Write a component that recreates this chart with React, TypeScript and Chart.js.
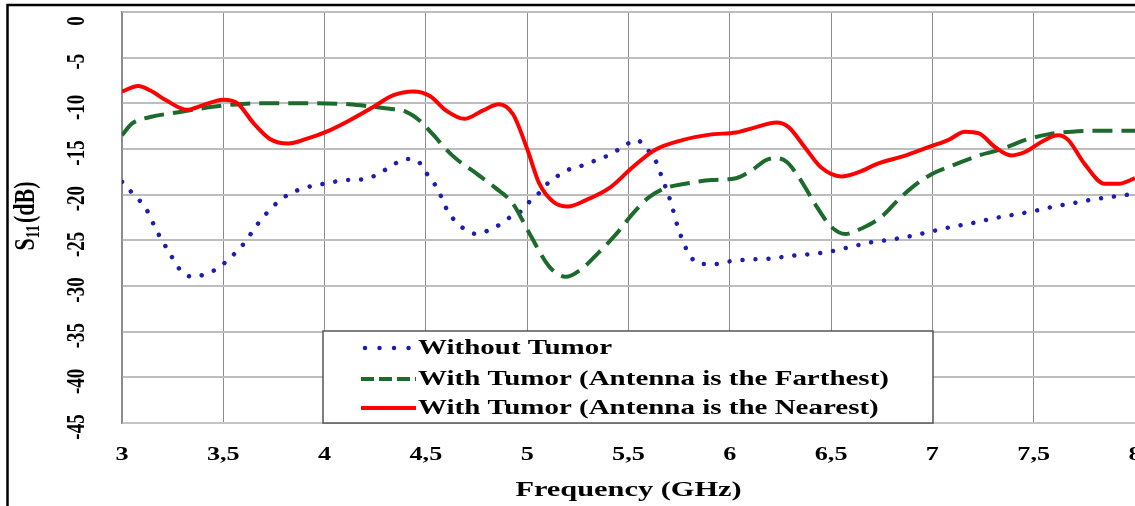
import React, { useEffect, useRef } from 'react';
import { Chart, registerables } from 'chart.js';

Chart.register(...registerables);

const FONT = "'Liberation Serif', 'Times New Roman', serif";
const STRETCH = 1.38;

const xTickLabels = ['3', '3,5', '4', '4,5', '5', '5,5', '6', '6,5', '7', '7,5', '8'];
const yTickLabels = ['0', '-5', '-10', '-15', '-20', '-25', '-30', '-35', '-40', '-45'];

const seriesLabels = [
  'Without Tumor',
  'With Tumor (Antenna is the Farthest)',
  'With Tumor (Antenna is the Nearest)',
];

const freqWithout = [
  3.0, 3.05, 3.12, 3.17, 3.23, 3.29, 3.35, 3.41, 3.47, 3.52, 3.6, 3.67, 3.75, 3.82, 3.91,
  4.0, 4.11, 4.2, 4.29, 4.34, 4.4, 4.46, 4.49, 4.53, 4.56, 4.61, 4.65, 4.7, 4.75, 4.81,
  4.87, 4.92, 4.97, 5.01, 5.06, 5.09, 5.14, 5.2, 5.26, 5.32, 5.38, 5.44, 5.49, 5.54, 5.59,
  5.63, 5.67, 5.71, 5.74, 5.78, 5.81, 5.86, 5.93, 6.0, 6.1, 6.2, 6.3, 6.4, 6.5, 6.6, 6.7,
  6.8, 6.9, 7.0, 7.1, 7.2, 7.3, 7.4, 7.5, 7.6, 7.7, 7.8, 7.9, 8.0,
];
const s11Without = [
  -18.6, -19.8, -21.6, -23.9, -26.2, -28.3, -29.0, -28.7, -28.1, -27.2, -25.4, -23.2, -21.2, -20.0, -19.2,
  -18.8, -18.4, -18.3, -17.4, -16.7, -16.1, -16.3, -17.3, -18.4, -19.5, -21.9, -23.0, -23.9, -24.3, -23.9,
  -23.2, -22.4, -21.8, -20.8, -19.8, -19.0, -18.1, -17.3, -16.9, -16.4, -15.9, -15.2, -14.5, -14.0, -15.0,
  -16.1, -18.4, -20.9, -23.3, -25.7, -26.9, -27.6, -27.6, -27.3, -27.1, -27.0, -26.7, -26.5, -26.2, -25.7, -25.2,
  -24.9, -24.5, -24.0, -23.5, -23.1, -22.6, -22.2, -21.8, -21.3, -20.9, -20.5, -20.2, -19.9,
];

const freqFarthest = [
  3.0, 3.05, 3.14, 3.27, 3.38, 3.52, 3.65, 3.8, 3.96, 4.12, 4.25, 4.32, 4.4, 4.47, 4.53,
  4.63, 4.75, 4.84, 4.93, 5.01, 5.11, 5.19, 5.27, 5.35, 5.44, 5.52, 5.6, 5.68, 5.78, 5.91,
  6.03, 6.11, 6.18, 6.23, 6.28, 6.35, 6.42, 6.5, 6.57, 6.65, 6.75, 6.83, 6.9, 7.0, 7.1,
  7.23, 7.33, 7.46, 7.57, 7.69, 7.82, 8.0,
];
const s11Farthest = [
  -13.5, -12.2, -11.5, -11.0, -10.6, -10.2, -10.0, -10.0, -10.0, -10.1, -10.4, -10.6, -10.9, -11.9, -13.3,
  -15.7, -17.7, -19.2, -21.0, -24.2, -27.9, -29.0, -28.1, -26.4, -24.3, -22.1, -20.3, -19.3, -18.8, -18.4,
  -18.2, -17.3, -16.2, -16.0, -16.4, -18.4, -21.0, -23.5, -24.3, -23.7, -22.4, -20.6, -19.2, -17.7, -16.8,
  -15.7, -15.1, -14.0, -13.4, -13.1, -13.0, -13.0,
];

const freqNearest = [
  3.0, 3.08, 3.14, 3.22, 3.32, 3.4, 3.5, 3.57, 3.65, 3.73, 3.82, 3.91, 4.01, 4.12, 4.24,
  4.34, 4.44, 4.52, 4.6, 4.69, 4.78, 4.86, 4.93, 5.0, 5.06, 5.13, 5.2, 5.29, 5.41, 5.52,
  5.63, 5.77, 5.91, 6.03, 6.13, 6.23, 6.29, 6.37, 6.45, 6.55, 6.64, 6.73, 6.87, 6.98, 7.08,
  7.16, 7.23, 7.31, 7.39, 7.46, 7.54, 7.62, 7.67, 7.75, 7.85, 7.92, 8.0,
];
const s11Nearest = [
  -8.7, -8.1, -8.6, -9.7, -10.7, -10.2, -9.6, -10.0, -12.2, -13.9, -14.4, -13.9, -13.1, -11.9, -10.4,
  -9.1, -8.7, -9.2, -10.8, -11.7, -10.8, -10.1, -11.2, -15.0, -18.8, -20.8, -21.3, -20.6, -19.2, -17.0,
  -15.1, -14.0, -13.4, -13.2, -12.6, -12.1, -12.6, -14.8, -17.0, -18.0, -17.5, -16.6, -15.7, -14.8, -14.0,
  -13.1, -13.3, -14.8, -15.7, -15.3, -14.2, -13.5, -14.0, -16.6, -18.8, -18.8, -18.2,
];

const toPoints = (xs: number[], ys: number[]) => xs.map((x, i) => ({ x, y: ys[i] }));

function stretchedText(
  ctx: CanvasRenderingContext2D,
  text: string,
  x: number,
  y: number,
  font: string,
  align: CanvasTextAlign,
  rotated = false,
) {
  ctx.save();
  ctx.translate(x, y);
  if (rotated) {
    ctx.rotate(-Math.PI / 2);
    ctx.scale(1, STRETCH);
  } else {
    ctx.scale(STRETCH, 1);
  }
  ctx.font = font;
  ctx.fillStyle = '#000';
  ctx.textAlign = align;
  ctx.textBaseline = 'middle';
  ctx.fillText(text, 0, 0);
  ctx.restore();
}

const decorPlugin = {
  id: 'decor',
  afterDraw(chart: any) {
    const ctx = chart.ctx as CanvasRenderingContext2D;
    const xScale = chart.scales.x;
    const yScale = chart.scales.y;
    const area = chart.chartArea;

    ctx.save();
    // outer frame
    ctx.strokeStyle = '#000';
    ctx.lineWidth = 2.5;
    ctx.beginPath();
    ctx.moveTo(7.5, 506);
    ctx.lineTo(7.5, 5);
    ctx.lineTo(1135, 5);
    ctx.stroke();
    ctx.restore();

    // x tick labels (from the x scale)
    xTickLabels.forEach((lab, i) => {
      const px = xScale.getPixelForValue(3 + i * 0.5);
      stretchedText(ctx, lab, px, area.bottom + 32, `bold 19px ${FONT}`, 'center');
    });

    // y tick labels (from the y scale), rotated
    yTickLabels.forEach((lab, i) => {
      const py = yScale.getPixelForValue(-i * 5);
      stretchedText(ctx, lab, 77, py + (i === 0 ? 9 : 4), `bold 19px ${FONT}`, 'center', true);
    });

    // x title
    stretchedText(ctx, 'Frequency (GHz)', (area.left + area.right) / 2, 490, `bold 22px ${FONT}`, 'center');

    // y title with subscript
    ctx.save();
    ctx.translate(24, 216);
    ctx.rotate(-Math.PI / 2);
    ctx.scale(1, STRETCH);
    ctx.fillStyle = '#000';
    ctx.textBaseline = 'alphabetic';
    const big = `bold 22px ${FONT}`;
    const small = `bold 14px ${FONT}`;
    ctx.font = big;
    const wS = ctx.measureText('S').width;
    const wRest = ctx.measureText('(dB)').width;
    ctx.font = small;
    const wSub = ctx.measureText('11').width;
    const total = wS + wSub + 2 + wRest;
    let x = -total / 2;
    ctx.font = big;
    ctx.fillText('S', x, 7);
    x += wS;
    ctx.font = small;
    ctx.fillText('11', x, 11);
    x += wSub + 2;
    ctx.font = big;
    ctx.fillText('(dB)', x, 7);
    ctx.restore();

    // legend
    ctx.save();
    const bx = 323, by = 331, bw = 610, bh = 92;
    ctx.fillStyle = '#fff';
    ctx.fillRect(bx, by, bw, bh);
    ctx.strokeStyle = '#555';
    ctx.lineWidth = 1.5;
    ctx.strokeRect(bx, by, bw, bh);
    const rows = [348, 379, 408];
    chart.data.datasets.forEach((ds: any, i: number) => {
      const y = rows[i];
      ctx.save();
      ctx.strokeStyle = ds.borderColor;
      ctx.lineWidth = ds.borderWidth;
      ctx.lineCap = ds.borderCapStyle || 'butt';
      if (i === 0) ctx.setLineDash([0.01, 14.5]);
      else if (i === 1) ctx.setLineDash([13, 5]);
      else ctx.setLineDash([]);
      ctx.beginPath();
      ctx.moveTo(i === 0 ? 365 : 361, y);
      ctx.lineTo(i === 0 ? 410 : 416, y);
      ctx.stroke();
      ctx.restore();
      stretchedText(ctx, ds.label, 418, y + 1, `bold 21px ${FONT}`, 'left');
    });
    ctx.restore();
  },
};

export default function App() {
  const ref = useRef<HTMLCanvasElement | null>(null);
  useEffect(() => {
    if (!ref.current) return;
    const chart = new Chart(ref.current, {
      type: 'line',
      data: {
        datasets: [
          {
            label: seriesLabels[0],
            data: toPoints(freqWithout, s11Without),
            borderColor: '#1d1db0',
            borderWidth: 4.5,
            borderDash: [0.01, 13],
            borderCapStyle: 'round',
            pointRadius: 0,
            cubicInterpolationMode: 'monotone',
            order: 2,
          },
          {
            label: seriesLabels[1],
            data: toPoints(freqFarthest, s11Farthest),
            borderColor: '#1d6b2c',
            borderWidth: 4,
            borderDash: [20, 9],
            borderCapStyle: 'butt',
            pointRadius: 0,
            cubicInterpolationMode: 'monotone',
            order: 1,
          },
          {
            label: seriesLabels[2],
            data: toPoints(freqNearest, s11Nearest),
            borderColor: '#ff0000',
            borderWidth: 4,
            pointRadius: 0,
            cubicInterpolationMode: 'monotone',
            order: 0,
          },
        ],
      },
      options: {
        animation: false,
        responsive: false,
        devicePixelRatio: 1,
        layout: { padding: { left: 0, right: 0, top: 12, bottom: 0 } },
        plugins: { legend: { display: false }, tooltip: { enabled: false } },
        scales: {
          x: {
            type: 'linear',
            min: 3,
            max: 8,
            afterBuildTicks(scale: any) {
              scale.ticks = xTickLabels.map((_, i) => ({ value: 3 + i * 0.5 }));
            },
            afterFit(scale: any) {
              scale.height = 83;
              scale.paddingLeft = 0;
              scale.paddingRight = 0;
            },
            ticks: { display: false },
            grid: { color: '#8c8c8c', lineWidth: 1, drawTicks: false },
            border: { color: '#c4c4c4', width: 2 },
          },
          y: {
            type: 'linear',
            min: -45,
            max: 0,
            afterBuildTicks(scale: any) {
              scale.ticks = yTickLabels.map((_, i) => ({ value: -i * 5 }));
            },
            afterFit(scale: any) {
              scale.width = 122;
              scale.paddingTop = 0;
              scale.paddingBottom = 0;
            },
            ticks: { display: false },
            grid: { color: '#bdbdbd', lineWidth: 2, drawTicks: false },
            border: { color: '#8c8c8c', width: 1.5 },
          },
        },
      },
      plugins: [decorPlugin],
    } as any);
    return () => chart.destroy();
  }, []);

  return (
    <div style={{ position: 'absolute', left: 0, top: 0, width: 1135, height: 506, background: '#fff' }}>
      <canvas ref={ref} width={1135} height={506} style={{ display: 'block' }} />
    </div>
  );
}
